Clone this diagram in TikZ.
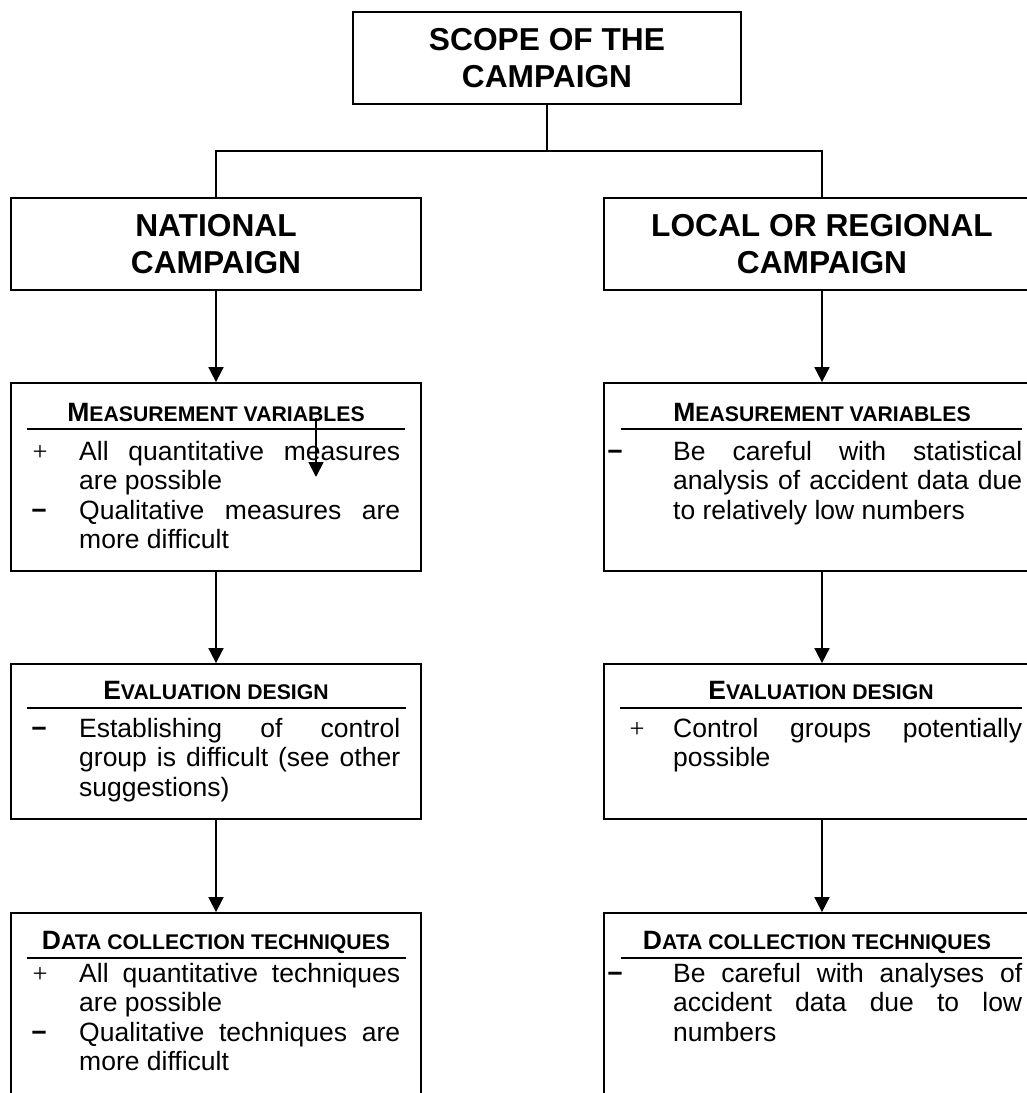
\documentclass[tikz,border=0pt]{standalone}
\usepackage{fontspec}
\setmainfont{Liberation Sans}
\newfontfamily\serifsym{Liberation Serif}
\usetikzlibrary{arrows.meta}

\newcommand{\jline}[1]{\makebox[\linewidth][s]{#1}\\}
\newcommand{\hdr}[2]{{\bfseries\fontsize{26.5}{30}\selectfont #1\fontsize{21.2}{30}\selectfont #2}}

\begin{document}
\begin{tikzpicture}[x=1pt,y=-1pt,
  box/.style={draw, line width=1.8pt, inner sep=0pt},
  ttl/.style={font=\bfseries\fontsize{31.7}{37}\selectfont, align=center},
  conn/.style={line width=1.8pt},
  arr/.style={line width=1.8pt, -{Triangle[width=15pt,length=15pt]}},
  bodytxt/.style={inner sep=0pt, anchor=base west, font=\fontsize{26.5}{29.6}\selectfont},
  bul/.style={inner sep=0pt, anchor=base, font=\fontsize{26.5}{29.6}\selectfont},
  hd/.style={inner sep=0pt, anchor=base},
  uline/.style={line width=1.8pt}
]
\useasboundingbox (0,0) rectangle (1027,1093);
\clip (0,0) rectangle (1027,1093);

% main boxes
\node[box, ttl, minimum width=388pt, minimum height=92pt] (top) at (547,58) {SCOPE OF THE\\CAMPAIGN};
\node[box, ttl, minimum width=410pt, minimum height=92pt] (nat) at (216,244) {NATIONAL\\CAMPAIGN};
\node[box, ttl, minimum width=436pt, minimum height=92pt] (loc) at (822,244) {LOCAL OR REGIONAL\\CAMPAIGN};

\node[box, minimum width=410pt, minimum height=188pt] (mL) at (216,477) {};
\node[box, minimum width=436pt, minimum height=188pt] (mR) at (822,477) {};
\node[box, minimum width=410pt, minimum height=155pt] (eL) at (216,741.5) {};
\node[box, minimum width=436pt, minimum height=155pt] (eR) at (822,741.5) {};
\node[box, minimum width=410pt, minimum height=200pt] (dL) at (216,1013) {};
\node[box, minimum width=436pt, minimum height=200pt] (dR) at (822,1013) {};

% connectors
\coordinate (jn) at (547,151);
\draw[conn] (top) -- (jn);
\draw[conn] (nat) |- (jn) -| (loc);
\draw[arr] (nat) -- (mL);
\draw[arr] (loc) -- (mR);
\draw[arr] (mL) -- (eL);
\draw[arr] (mR) -- (eR);
\draw[arr] (eL) -- (dL);
\draw[arr] (eR) -- (dR);

% stray arrow
\coordinate (sa) at (316,418);
\coordinate (sb) at (316,477);
\draw[arr] (sa) -- (sb);

% headers
\node[hd] (hmL) at (216,421) {\hdr{M}{EASUREMENT VARIABLES}};
\node[hd] (hmR) at (822,421) {\hdr{M}{EASUREMENT VARIABLES}};
\node[hd] (heL) at (216,699) {\hdr{E}{VALUATION DESIGN}};
\node[hd] (heR) at (821,699) {\hdr{E}{VALUATION DESIGN}};
\node[hd] (hdL) at (216,949) {\hdr{D}{ATA COLLECTION TECHNIQUES}};
\node[hd] (hdR) at (817,949) {\hdr{D}{ATA COLLECTION TECHNIQUES}};

\draw[uline] (27,429) -- (405,429);
\draw[uline] (621,429) -- (1022,429);
\draw[uline] (27,708) -- (406,708);
\draw[uline] (620,708) -- (1022,708);
\draw[uline] (27,958) -- (406,958);
\draw[uline] (621,958) -- (1022,958);

% measurement
\node[bul] (bm1) at (40,460) {\serifsym +};
\node[bul] (bm2) at (39,519.2) {\bfseries −};
\node[bodytxt] (tmL) at (79,460) {\parbox[t]{321pt}{\jline{All quantitative measures}are possible\\\jline{Qualitative measures are}more difficult}};
\node[bul] (bm3) at (615,460) {\bfseries −};
\node[bodytxt] (tmR) at (673,460) {\parbox[t]{349pt}{\jline{Be careful with statistical}\jline{analysis of accident data due}to relatively low numbers}};

% evaluation
\node[bul] (be1) at (39,737) {\bfseries −};
\node[bodytxt] (teL) at (79,737) {\parbox[t]{321pt}{\jline{Establishing of control}\jline{group is difficult (see other}suggestions)}};
\node[bul] (be2) at (637,737) {\serifsym +};
\node[bodytxt] (teR) at (673,737) {\parbox[t]{349pt}{\jline{Control groups potentially}possible}};

% data collection
\node[bul] (bd1) at (40,982) {\serifsym +};
\node[bul] (bd2) at (39,1041.2) {\bfseries −};
\node[bodytxt] (tdL) at (79,982) {\parbox[t]{321pt}{\jline{All quantitative techniques}are possible\\\jline{Qualitative techniques are}more difficult}};
\node[bul] (bd3) at (615,982) {\bfseries −};
\node[bodytxt] (tdR) at (673,982) {\parbox[t]{349pt}{\jline{Be careful with analyses of}\jline{accident data due to low}numbers}};
\end{tikzpicture}
\end{document}
